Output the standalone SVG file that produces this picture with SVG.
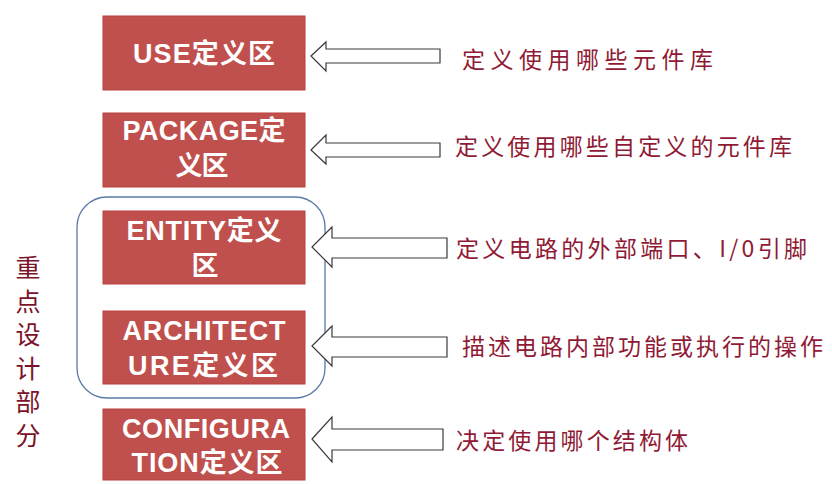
<svg xmlns="http://www.w3.org/2000/svg" width="832" height="484" viewBox="0 0 832 484">
<style>
.box{fill:#c0504d;stroke:#b9413e;stroke-width:1}
.bt{fill:#fff;font-family:"Liberation Sans","Noto Sans CJK SC",sans-serif;font-weight:bold;font-size:27px;text-anchor:middle}
.rt{fill:#901a35;font-family:"Noto Sans CJK SC",sans-serif;font-size:23px}
.lt{fill:#7a1228;font-family:"Noto Sans CJK SC",serif;font-size:25px;writing-mode:vertical-rl;letter-spacing:8.6px}
.arr{fill:#fff;stroke:#3a3a3a;stroke-width:1.2;stroke-linejoin:miter}
</style>
<rect width="832" height="484" fill="#fff"/>
<g id="focus-group">
<rect x="77" y="197" width="248" height="201" rx="30" ry="30" fill="none" stroke="#5a7aa5" stroke-width="1.3"/>
</g>
<g id="left-label">
<text class="lt" x="28" y="255">重点设计部分</text>
</g>
<g id="node-use">
<rect class="box" x="103" y="16" width="202" height="74"/>
<text class="bt" x="204" y="63" textLength="142" lengthAdjust="spacing">USE定义区</text>
</g>
<g id="node-package">
<rect class="box" x="103" y="113" width="202" height="74"/>
<text class="bt" x="204" y="140" textLength="163" lengthAdjust="spacing">PACKAGE定</text>
<text class="bt" x="202" y="175" textLength="53" lengthAdjust="spacing">义区</text>
</g>
<g id="node-entity">
<rect class="box" x="103" y="211" width="202" height="73"/>
<text class="bt" x="204" y="240" textLength="155" lengthAdjust="spacing">ENTITY定义</text>
<text class="bt" x="205" y="275">区</text>
</g>
<g id="node-architecture">
<rect class="box" x="103" y="311" width="202" height="73"/>
<text class="bt" x="204" y="340" textLength="163" lengthAdjust="spacing">ARCHITECT</text>
<text class="bt" x="203" y="375" textLength="150" lengthAdjust="spacing">URE定义区</text>
</g>
<g id="node-configuration">
<rect class="box" x="103" y="409" width="202" height="71"/>
<text class="bt" x="206" y="438" textLength="168" lengthAdjust="spacing">CONFIGURA</text>
<text class="bt" x="207" y="472" textLength="151" lengthAdjust="spacing">TION定义区</text>
</g>
<g id="connectors">
<polygon class="arr" points="311,56 326,42 326,49 440,49 440,63 326,63 326,71"/>
<polygon class="arr" points="311,150 326,135 326,143 440,143 440,157 326,157 326,164"/>
<polygon class="arr" points="312,247 332,227 332,238 447,238 447,258 332,258 332,267"/>
<polygon class="arr" points="312,346 332,326 332,337 447,337 447,357 332,357 332,366"/>
<polygon class="arr" points="312,439 332,417 332,429 443,429 443,450 332,450 332,462"/>
</g>
<g id="descriptions">
<text class="rt" x="462" y="68" textLength="251" lengthAdjust="spacing">定义使用哪些元件库</text>
<text class="rt" x="455" y="155" textLength="337" lengthAdjust="spacing">定义使用哪些自定义的元件库</text>
<text class="rt" x="456" y="257" textLength="351" lengthAdjust="spacing">定义电路的外部端口、I/0引脚</text>
<text class="rt" x="462" y="355" textLength="361" lengthAdjust="spacing">描述电路内部功能或执行的操作</text>
<text class="rt" x="456" y="449" textLength="232" lengthAdjust="spacing">决定使用哪个结构体</text>
</g>
</svg>
